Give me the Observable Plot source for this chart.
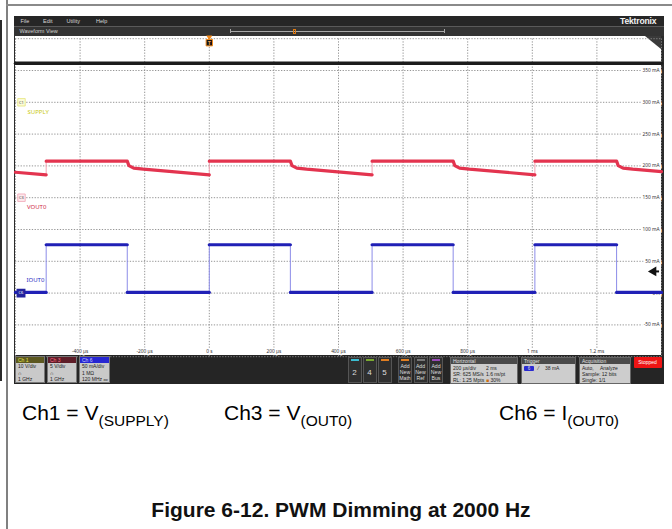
<!DOCTYPE html>
<html><head><meta charset="utf-8">
<script src="https://cdn.jsdelivr.net/npm/d3@7"></script>
<script src="https://cdn.jsdelivr.net/npm/@observablehq/plot@0.6"></script>
<style>
body{margin:0;width:672px;height:529px;position:relative;overflow:hidden;background:#fff;font-family:"Liberation Sans",Arial,sans-serif}
.a{position:absolute}
.menu span{position:absolute;top:17.5px;font-size:5.5px;color:#d8d8d8}
.chbox{position:absolute;top:356px;height:27px;background:#c9c9c9;border:1px solid #777;box-sizing:border-box;overflow:hidden}
.chbox .hd{height:6px;font-size:5px;line-height:6px;padding-left:2px}
.chbox .bd{font-size:5px;line-height:6.6px;padding-left:2px;color:#222;white-space:nowrap}
.btn{position:absolute;top:357px;height:26px;background:#2f2f2f;border:1px solid #555;box-sizing:border-box;color:#ddd;text-align:center}
.btn .st{height:2px;margin:1px 2px 0 2px}
.box{position:absolute;top:356.5px;height:27px;background:#cdcdcd;box-sizing:border-box;border:1px solid #666;overflow:hidden}
.box .hd{height:6px;background:#4a4a4a;color:#e0e0e0;font-size:5px;line-height:6px;padding-left:2px}
.box .t{position:absolute;font-size:5px;line-height:6px;color:#222;white-space:nowrap}
.cap{position:absolute;font-size:21px;color:#000;white-space:nowrap}
.cap sub{font-size:15.5px;vertical-align:-6px;line-height:0}
</style></head><body>
<script>
// ---------- data ----------
// time axis (µs); 200 µs/div, 10 div
const gridTimes = [-600, -400, -200, 0, 200, 400, 600, 800, 1000, 1200, 1400];
const timeTicks = [-400, -200, 0, 200, 400, 600, 800, 1000, 1200];
const timeLabels = ["-400 µs", "-200 µs", "0 s", "200 µs", "400 µs", "600 µs", "800 µs", "1 ms", "1.2 ms"];
// vertical axis in Ch6 units (mA), 50 mA/div
const gridLevels = [-100, -50, 0, 50, 100, 150, 200, 250, 300, 350, 400];
const levelTicks = [350, 300, 250, 200, 150, 100, 50, 0, -50];
const levelLabels = ["350 mA", "300 mA", "250 mA", "200 mA", "150 mA", "100 mA", "50 mA", "0 A", "-50 mA"];
// Ch1 V(SUPPLY) trace (screen level expressed on the Ch6 mA scale)
const supplyT = [-600, 1400];
const supplyV = [361.4, 361.4];
// Ch3 V(OUT0) trace
const voutT = [-600, -505, -505, -254, -249, -234, -204, 0, 0, 251, 256, 271, 301, 504, 504, 755, 760, 775, 805, 1008, 1008, 1261, 1266, 1281, 1311, 1400];
const voutV = [190, 186, 207.5, 207.5, 200.5, 196.5, 194.8, 186, 207.5, 207.5, 200.5, 196.5, 194.8, 186, 207.5, 207.5, 200.5, 196.5, 194.8, 186, 207.5, 207.5, 200.5, 196.5, 194.8, 191];
// Ch6 I(OUT0) trace (mA)
const ioutT = [-600, -505, -505, -254, -254, 0, 0, 251, 251, 504, 504, 755, 755, 1008, 1008, 1261, 1261, 1400];
const ioutV = [1, 1, 76, 76, 1, 1, 76, 76, 1, 1, 76, 76, 1, 1, 76, 76, 1, 1];
// channel ground markers (on the Ch6 mA scale)
const chTags = ["C1", "C3", "C6"];
const chGround = [300, 150, 0];
const chNames = ["SUPPLY", "VOUT0", "IOUT0"];
// trigger
const trigTime = 0;
const trigLevel = 38;

// ---------- page chrome ----------
const H = (html) => document.body.insertAdjacentHTML("beforeend", html);
H(`<div class="a" style="left:6px;top:0;width:2px;height:529px;background:#808080"></div>`);
H(`<div class="a" style="left:6px;top:4px;width:666px;height:2px;background:#8a8a8a"></div>`);
H(`<div class="a" style="left:0;top:20px;width:1.5px;height:361px;background:#2a2a2a"></div>`);
// scope frame
H(`<div class="a" style="left:14px;top:16px;width:650px;height:10px;background:#262626"></div>`);
H(`<div class="a" style="left:14px;top:26px;width:650px;height:1px;background:#5a5a5a"></div>`);
H(`<div class="a" style="left:14px;top:27px;width:650px;height:9px;background:#333"></div>`);
H(`<div class="a" style="left:14px;top:36px;width:650px;height:319px;background:#2b2b2b"></div>`);
H(`<div class="a" style="left:15px;top:36px;width:646px;height:319px;background:#fff"></div>`);
H(`<div class="a" style="left:14px;top:355px;width:650px;height:29px;background:#252525"></div>`);
H(`<div class="menu"><span style="left:20.5px">File</span><span style="left:43px">Edit</span><span style="left:66.5px">Utility</span><span style="left:96px">Help</span></div>`);
H(`<div class="a" style="left:620px;top:16px;font-size:8.6px;font-weight:bold;color:#f2f2f2;letter-spacing:-0.2px">Tektronix</div>`);
H(`<div class="a" style="left:19.5px;top:28px;font-size:5.5px;color:#d0d0d0">Waveform View</div>`);
// timeline overview
H(`<div class="a" style="left:230px;top:31px;width:215px;height:1px;background:#a8a8a8"></div>`);
H(`<div class="a" style="left:230px;top:29px;width:1px;height:4px;background:#a8a8a8"></div>`);
H(`<div class="a" style="left:444px;top:29px;width:1px;height:4px;background:#a8a8a8"></div>`);
H(`<div class="a" style="left:292.5px;top:28.5px;width:3px;height:5px;border:1px solid #e07a10;box-sizing:border-box"></div>`);
// corner icon
H(`<div class="a" style="left:645px;top:36px;width:0;height:0;border-top:13px solid #3a3a3a;border-left:16px solid transparent"></div>`);

// ---------- oscilloscope traces with Plot ----------
const seg = (T, V) => { let s = 0; return T.map((t, i) => { if (i > 0 && t === T[i - 1]) s++; return {t, v: V[i], seg: s}; }); };
const supply = seg(supplyT, supplyV);
const vout = seg(voutT, voutV);
const iout = seg(ioutT, ioutV);
const ch = chTags.map((c, i) => ({tag: c, g: chGround[i], name: chNames[i]}));
const xt = timeTicks.map((t, i) => ({t, label: timeLabels[i]}));
const yt = levelTicks.map((v, i) => ({v, label: levelLabels[i]}));

const grid = {stroke: "#8a8a8a", strokeWidth: 0.9, strokeDasharray: "1.3,1.5"};
const plot = Plot.plot({
  width: 672, height: 319, margin: 0,
  x: {domain: [-600, 1400], range: [15, 661], axis: null},
  y: {domain: [-100, 400], range: [320.2, 2.2], axis: null},
  style: {background: "transparent", overflow: "visible"},
  marks: [
    Plot.ruleY(gridLevels, {y: d => d, x1: -600, x2: 1400, ...grid}),
    Plot.ruleX(gridTimes, {x: d => d, y1: -100, y2: 400, ...grid}),
    Plot.text(yt, {x: 1400, y: "v", text: "label", dx: -2, textAnchor: "end", fontSize: 4.8, fill: "#333", stroke: "white", strokeWidth: 4}),
    Plot.text(xt, {x: "t", y: -100, text: "label", dy: -5.2, fontSize: 4.8, fill: "#333", stroke: "white", strokeWidth: 3}),
    Plot.line(supply, {x: "t", y: "v", stroke: "#1c1c1c", strokeWidth: 3.4}),
    Plot.line(vout, {x: "t", y: "v", stroke: "#f3a3b2", strokeWidth: 1}),
    Plot.line(vout, {x: "t", y: "v", z: "seg", stroke: "#e3344f", strokeWidth: 3.2}),
    Plot.line(iout, {x: "t", y: "v", stroke: "#8c8ce8", strokeWidth: 1}),
    Plot.line(iout, {x: "t", y: "v", z: "seg", stroke: "#2020b6", strokeWidth: 3.2}),
    // channel ground tags
    Plot.dot([ch[0]], {x: -600, y: "g", dx: 6, symbol: "square", r: 4.2, fill: "#fbfbd8", stroke: "#e4e47a", strokeWidth: 0.8}),
    Plot.dot([ch[1]], {x: -600, y: "g", dx: 6, symbol: "square", r: 4.2, fill: "#fde9ed", stroke: "#f0a2b2", strokeWidth: 0.8}),
    Plot.dot([ch[2]], {x: -600, y: "g", dx: 5.5, symbol: "square", r: 4.2, fill: "#23239e", stroke: "#23239e"}),
    Plot.text(ch.slice(0, 2), {x: -600, y: "g", text: "tag", dx: 6, fontSize: 4, fill: "#444"}),
    Plot.text([ch[2]], {x: -600, y: "g", text: "tag", dx: 5.5, fontSize: 4, fill: "#fff"}),
    Plot.text([ch[0]], {x: -600, y: "g", text: "name", dx: 12, dy: 9.5, textAnchor: "start", fontSize: 6, fill: "#caca14"}),
    Plot.text([ch[1]], {x: -600, y: "g", text: "name", dx: 11.5, dy: 9.8, textAnchor: "start", fontSize: 6, fill: "#cf2a48"}),
    Plot.text([ch[2]], {x: -600, y: "g", text: "name", dx: 11, dy: -13.4, textAnchor: "start", fontSize: 6, fill: "#2c2cc4"}),
    // trigger position marker
    Plot.dot([trigTime], {x: d => d, y: 400, dy: -1.6, symbol: "triangle", rotate: 180, r: 2.2, fill: "#f08a1e"}),
    Plot.dot([trigTime], {x: d => d, y: 400, dy: 4, symbol: "square", r: 3.6, fill: "#141414", stroke: "#f08a1e", strokeWidth: 1}),
    Plot.text([trigTime], {x: d => d, y: 400, dy: 4.2, text: () => "T", fontSize: 5.5, fontWeight: "bold", fill: "#f3a050"}),
    // trigger level arrow (shaft + head)
    Plot.ruleY([trigLevel], {y: d => d, x1: 1374, x2: 1394, dy: 2.5, stroke: "#111", strokeWidth: 2}),
    Plot.dot([trigLevel], {x: 1400, y: d => d, dx: -8, dy: 2.5, symbol: "triangle", rotate: -90, r: 3.6, fill: "#111", stroke: "none"})
  ]
});
plot.style.position = "absolute";
plot.style.left = "0px";
plot.style.top = "36px";
document.body.appendChild(plot);

// ---------- bottom panel ----------
H(`<div class="chbox" style="left:15px;width:30px"><div class="hd" style="background:#5c5820;color:#e4e44c">Ch 1</div><div class="bd">10 V/div<br>∩<br>1 GHz</div></div>`);
H(`<div class="chbox" style="left:47px;width:30px"><div class="hd" style="background:#5e1d28;color:#ff6a80">Ch 3</div><div class="bd">5 V/div<br>∩<br>1 GHz</div></div>`);
H(`<div class="chbox" style="left:79px;width:31px"><div class="hd" style="background:#2626d2;color:#c8c8ff">Ch 6</div><div class="bd">50 mA/div<br>1 MΩ<br>120 MHz <span style="font-size:3.5px">ʙᴡ</span></div></div>`);
const btns = [["2", "#3cbcd0", 347.5], ["4", "#7aa830", 362.5], ["5", "#e07e22", 377.5]];
btns.forEach(([n, c, x]) => H(`<div class="btn" style="left:${x}px;width:14px"><div class="st" style="background:${c}"></div><div style="font-size:8px;margin-top:7px">${n}</div></div>`));
const adds = [["Math", "#e07e22", 398], ["Ref", "#777", 413.5], ["Bus", "#9a4ab8", 429]];
adds.forEach(([n, c, x]) => H(`<div class="btn" style="left:${x}px;width:14px"><div class="st" style="background:${c}"></div><div style="font-size:5.2px;line-height:6px;margin-top:2px">Add<br>New<br>${n}</div></div>`));
H(`<div class="box" style="left:450px;width:68px"><div class="hd">Horizontal</div>
<div class="t" style="left:2px;top:7px">200 µs/div</div><div class="t" style="left:35px;top:7px">2 ms</div>
<div class="t" style="left:2px;top:13px">SR: 625 MS/s</div><div class="t" style="left:35px;top:13px">1.6 ns/pt</div>
<div class="t" style="left:2px;top:19px">RL: 1.25 Mpts</div><div class="t" style="left:35px;top:19px"><span style="color:#d07010">■</span> 30%</div></div>`);
H(`<div class="box" style="left:521px;width:54.5px"><div class="hd">Trigger</div>
<div class="a" style="left:2px;top:8px;width:10px;height:5px;background:#2a2ad0;color:#ddd;text-align:center;line-height:5px;font-size:4.5px;border-radius:1px">6</div>
<div class="t" style="left:16px;top:7.5px">⁄</div><div class="t" style="left:23px;top:7.5px">38 mA</div></div>`);
H(`<div class="box" style="left:579px;width:51.5px"><div class="hd">Acquisition</div>
<div class="t" style="left:2px;top:7px">Auto,</div><div class="t" style="left:20px;top:7px">Analyze</div>
<div class="t" style="left:2px;top:13px">Sample: 12 bits</div>
<div class="t" style="left:2px;top:19px">Single: 1/1</div></div>`);
H(`<div class="a" style="left:633.5px;top:357px;width:28px;height:11px;background:#ee1414;border-radius:1px;color:#fff;font-size:5px;line-height:11px;text-align:center">Stopped</div>`);

// ---------- captions ----------
H(`<div class="cap" style="left:22px;top:401px">Ch1 = V<sub>(SUPPLY)</sub></div>`);
H(`<div class="cap" style="left:224px;top:401px">Ch3 = V<sub>(OUT0)</sub></div>`);
H(`<div class="cap" style="left:499px;top:401px">Ch6 = I<sub>(OUT0)</sub></div>`);
H(`<div class="a" style="left:0;width:672px;top:498px;text-align:center;padding-left:10px;box-sizing:border-box;font-size:21px;font-weight:bold;color:#111">Figure 6-12. PWM Dimming at 2000 Hz</div>`);
</script>
</body></html>
